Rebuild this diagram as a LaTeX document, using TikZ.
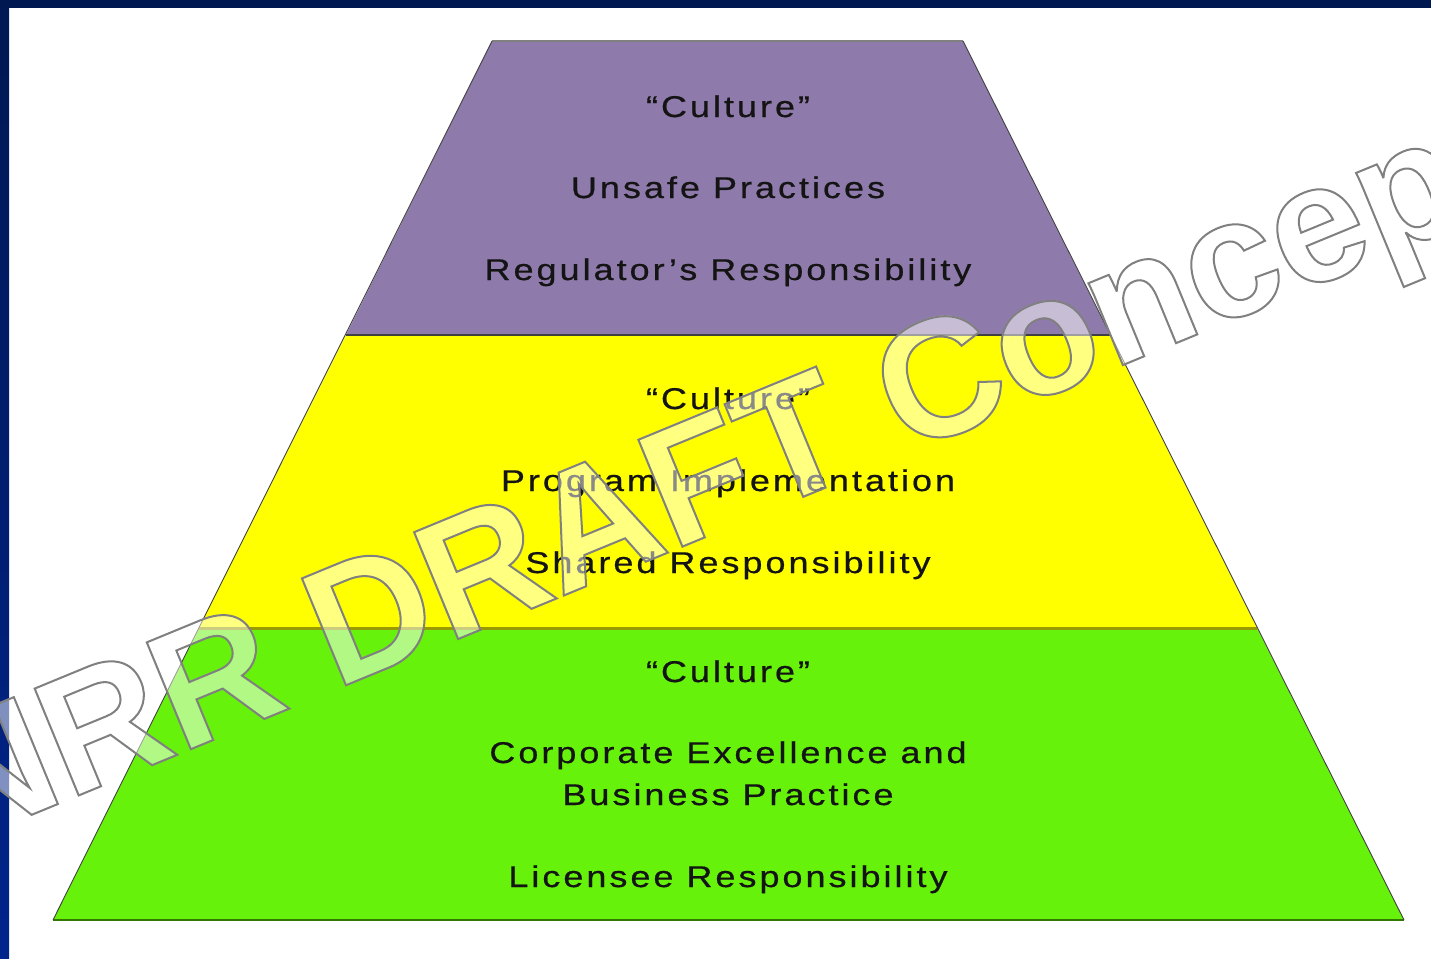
\documentclass[tikz,border=0pt]{standalone}
\usepackage{fontspec}
\newfontfamily\labfont[LetterSpace=10,FakeStretch=1.2,FakeBold=0.6]{Liberation Sans}
\newfontfamily\wmfont{Liberation Sans}
\definecolor{navytop}{RGB}{0,24,82}
\definecolor{navybot}{RGB}{0,36,140}
\definecolor{purplefill}{RGB}{143,123,171}
\definecolor{yellowfill}{RGB}{255,255,0}
\definecolor{greenfill}{RGB}{102,242,10}
\definecolor{edgegray}{RGB}{64,64,64}
\definecolor{topgray}{RGB}{128,128,128}
\definecolor{olive}{RGB}{153,153,0}
\definecolor{darkgreen}{RGB}{51,120,0}
\definecolor{wmgray}{RGB}{128,128,128}
\definecolor{labtext}{RGB}{20,20,20}
\tikzset{
  lab/.style={font=\labfont\fontsize{30}{36}\selectfont, anchor=base, inner sep=0pt, text=labtext},
  wmbase/.style={font=\wmfont\bfseries\fontsize{168}{170}\selectfont, anchor=base west, inner sep=0pt, rotate=22.4},
  wmfill/.style={wmbase, text=white, text opacity=0.5},
  wmline/.style={wmbase, text=wmgray},
  sideline/.style={draw=edgegray, line width=0.9pt},
}
\begin{document}
\begin{tikzpicture}[x=1pt,y=-1pt]
\useasboundingbox (0,0) rectangle (1431,958);
\fill[white] (0,0) rectangle (1431,958);
% border
\fill[navytop] (0,0) rectangle (1431,8);
\shade[top color=navytop, bottom color=navybot] (0,0) rectangle (9,958);
% pyramid corners
\coordinate (tl) at (492,41);
\coordinate (tr) at (963,41);
\coordinate (m1l) at (346,335);
\coordinate (m1r) at (1110,335);
\coordinate (m2l) at (199,628);
\coordinate (m2r) at (1257,628);
\coordinate (bl) at (53,920);
\coordinate (br) at (1404,920);
% layers
\fill[purplefill] (tl) -- (tr) -- (m1r) -- (m1l) -- cycle;
\fill[yellowfill] (m1l) -- (m1r) -- (m2r) -- (m2l) -- cycle;
\fill[greenfill] (m2l) -- (m2r) -- (br) -- (bl) -- cycle;
\draw[topgray, line width=1.5pt] (tl) -- (tr);
\draw[edgegray, line width=2pt] (m1l) -- (m1r);
\draw[olive, line width=3pt] (m2l) -- (m2r);
\draw[darkgreen, line width=2.5pt] (bl) -- (br);
\draw[sideline] (tl) -- (bl);
\draw[sideline] (tr) -- (br);
% labels
\node[lab] (c1) at (728,117) {“Culture”};
\node[lab] (t1) at (728,198) {Unsafe Practices};
\node[lab] (r1) at (728,280) {Regulator’s Responsibility};
\node[lab] (c2) at (728,409) {“Culture”};
\node[lab] (t2) at (728,491) {Program Implementation};
\node[lab] (r2) at (728,573) {Shared Responsibility};
\node[lab] (c3) at (728,682) {“Culture”};
\node[lab] (t3a) at (728,763) {Corporate Excellence and};
\node[lab] (t3b) at (728,805) {Business Practice};
\node[lab] (r3) at (728,887) {Licensee Responsibility};
% watermark
\node[wmfill] (wm) at (-44,846) {NRR DRAFT Concept};
\node[wmline] (wmo) at (-44,846) {\special{pdf:literal direct 1 Tr 2 w}NRR DRAFT Concept\special{pdf:literal direct 0 Tr}};
\end{tikzpicture}
\end{document}
